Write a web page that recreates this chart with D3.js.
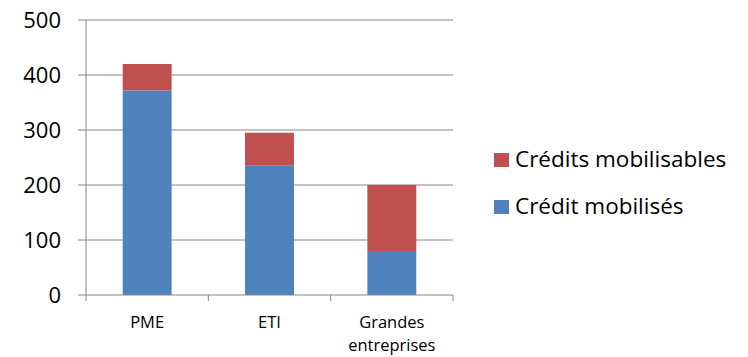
<!DOCTYPE html>
<meta charset="utf-8">
<script src="https://cdn.jsdelivr.net/npm/d3@7"></script>
<style>
body { margin: 0; background: #fff; }
text { font-family: "Open Sans", sans-serif; fill: #000; }
</style>
<body>
<div id="chart"></div>
<script>
// data
var categories = ["PME", "ETI", "Grandes entreprises"];
var mobilises = [372, 236, 80];
var mobilisables = [48, 59, 120];
var seriesNames = ["Crédits mobilisables", "Crédit mobilisés"];
var yTicks = [0, 100, 200, 300, 400, 500];

var width = 748, height = 357;
var plot = {left: 86, right: 453, top: 20, bottom: 295};

var svg = d3.select("#chart").append("svg")
    .attr("width", width)
    .attr("height", height);

var x = d3.scaleBand()
    .domain(categories)
    .range([plot.left, plot.right])
    .paddingInner(0.6)
    .paddingOuter(0.3);

var y = d3.scaleLinear()
    .domain([0, 500])
    .range([plot.bottom, plot.top]);

// gridlines
svg.append("g")
    .selectAll("line")
    .data(yTicks.filter(function(d) { return d > 0; }))
    .enter().append("line")
    .attr("x1", plot.left - 8)
    .attr("x2", plot.right)
    .attr("y1", function(d) { return y(d); })
    .attr("y2", function(d) { return y(d); })
    .attr("stroke", "#868686")
    .attr("stroke-width", 1);

// y tick labels
svg.append("g")
    .selectAll("text")
    .data(yTicks)
    .enter().append("text")
    .attr("x", 61)
    .attr("y", function(d) { return y(d); })
    .attr("dy", "0.36em")
    .attr("text-anchor", "end")
    .style("font-size", "22px")
    .text(function(d) { return d; });

// stacked bars
var rows = categories.map(function(c, i) {
    return {cat: c, mobilises: mobilises[i], mobilisables: mobilisables[i]};
});
var stack = d3.stack().keys(["mobilises", "mobilisables"])(rows);
var colors = {mobilises: "#4f81bd", mobilisables: "#c0504d"};

svg.append("g")
    .selectAll("g")
    .data(stack)
    .enter().append("g")
    .attr("fill", function(s) { return colors[s.key]; })
    .selectAll("rect")
    .data(function(s) { return s; })
    .enter().append("rect")
    .attr("x", function(d) { return x(d.data.cat); })
    .attr("width", x.bandwidth())
    .attr("y", function(d) { return y(d[1]); })
    .attr("height", function(d) { return y(d[0]) - y(d[1]); });

// axes
svg.append("line")
    .attr("x1", plot.left).attr("x2", plot.left)
    .attr("y1", plot.top).attr("y2", plot.bottom)
    .attr("stroke", "#868686");
svg.append("line")
    .attr("x1", plot.left - 8).attr("x2", plot.right)
    .attr("y1", plot.bottom).attr("y2", plot.bottom)
    .attr("stroke", "#868686");

var xTickPos = [0, 1, 2, 3].map(function(i) { return plot.left + i * (plot.right - plot.left) / 3; });
svg.append("g")
    .selectAll("line")
    .data(xTickPos)
    .enter().append("line")
    .attr("x1", function(d) { return d; })
    .attr("x2", function(d) { return d; })
    .attr("y1", plot.bottom)
    .attr("y2", plot.bottom + 6)
    .attr("stroke", "#868686");

// category labels
var catLabels = svg.append("g")
    .selectAll("text")
    .data(categories)
    .enter().append("text")
    .attr("x", function(d) { return x(d) + x.bandwidth() / 2; })
    .attr("y", 328)
    .attr("text-anchor", "middle")
    .style("font-size", "16.5px");
catLabels.each(function(d) {
    var words = d.split(" ");
    var t = d3.select(this);
    if (words.length > 1) {
        words.forEach(function(w, i) {
            t.append("tspan")
                .attr("x", x(d) + x.bandwidth() / 2)
                .attr("dy", i === 0 ? 0 : 23)
                .text(w);
        });
    } else {
        t.text(d);
    }
});

// legend
var legend = svg.append("g")
    .selectAll("g")
    .data(seriesNames)
    .enter().append("g")
    .attr("transform", function(d, i) { return "translate(494," + (167 + i * 47) + ")"; });
legend.append("rect")
    .attr("y", -14)
    .attr("width", 15)
    .attr("height", 14)
    .attr("fill", function(d, i) { return i === 0 ? colors.mobilisables : colors.mobilises; });
legend.append("text")
    .attr("x", 21)
    .attr("y", 0)
    .style("font-size", "22.5px")
    .text(function(d) { return d; });
</script>
</body>
